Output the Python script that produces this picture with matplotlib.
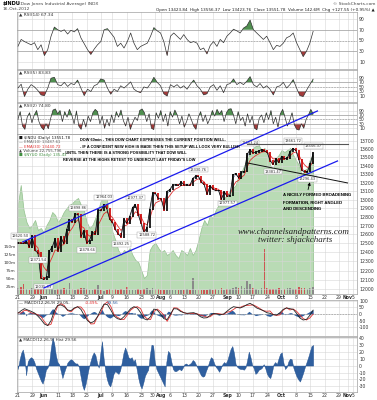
import numpy as np
import pandas as pd
import matplotlib
matplotlib.use('Agg')
import matplotlib.pyplot as plt
from matplotlib.ticker import NullLocator

W, H = 377, 400

# $INDU daily closes, 21-May-2012 .. 16-Oct-2012
closes = [12504.48, 12502.81, 12496.15, 12529.75, 12454.83, 12580.69, 12419.86, 12393.45,
          12118.57, 12101.46, 12127.95, 12414.79, 12460.96, 12554.20, 12411.23, 12573.80,
          12496.38, 12651.91, 12767.17, 12741.82, 12837.33, 12824.39, 12573.57, 12640.78,
          12502.66, 12534.67, 12627.01, 12602.26, 12880.09, 12871.39, 12943.36, 12896.67,
          12772.47, 12736.29, 12653.12, 12604.53, 12573.27, 12777.09, 12727.21, 12805.54,
          12908.70, 12943.33, 12822.57, 12721.46, 12617.32, 12676.05, 12887.93, 13075.66,
          13073.01, 13008.68, 13008.46, 12878.88, 13096.17, 13117.51, 13168.60, 13175.64,
          13165.19, 13207.95, 13169.43, 13172.14, 13164.78, 13250.11, 13275.20, 13271.64,
          13203.58, 13172.76, 13057.46, 13157.97, 13124.67, 13102.99, 13107.48, 13000.71,
          13090.84, 13035.94, 13047.48, 13292.00, 13306.64, 13254.29, 13323.36, 13333.35,
          13539.86, 13593.37, 13553.10, 13564.64, 13577.96, 13596.93, 13579.47, 13558.92,
          13457.55, 13413.51, 13485.97, 13437.13, 13515.11, 13482.36, 13494.61, 13575.36,
          13610.15, 13583.65, 13473.53, 13344.97, 13326.39, 13328.85, 13424.23, 13551.78]

# green overlay area (height above panel floor, panel units 0-160)
overlay = [89, 109, 84, 72, 66, 69, 74, 64, 66, 62, 69, 74, 82, 79, 72, 76, 82, 86, 89, 91,
           94, 96, 89, 84, 72, 66, 69, 76, 84, 94, 99, 96, 79, 62, 54, 44, 39, 44, 42, 46,
           39, 34, 32, 24, 16, 19, 44, 49, 51, 46, 42, 44, 39, 41, 44, 39, 36, 44, 42, 39,
           46, 39, 44, 54, 66, 74, 69, 79, 76, 84, 89, 94, 96, 99, 104, 106, 109, 119, 122, 129,
           134, 142, 146, 148, 149, 144, 146, 142, 129, 124, 136, 139, 144, 142, 144, 146, 139, 134, 129, 119,
           124, 126, 136, 139]

# volume (millions)
volume = [18, 22, 30, 15, 14, 20, 16, 18, 22, 25, 20, 16, 18, 14, 15, 17, 19, 16, 33, 15,
          14, 16, 18, 20, 15, 13, 14, 17, 28, 12, 8, 12, 15, 14, 16, 13, 15, 14, 22, 13,
          12, 14, 15, 13, 16, 18, 14, 19, 17, 15, 14, 12, 13, 11, 12, 13, 14, 12, 11, 15,
          13, 50, 14, 12, 13, 12, 14, 16, 13, 15, 12, 18, 14, 16, 15, 20, 22, 18, 25, 20,
          40, 30, 18, 16, 14, 20, 140, 18, 16, 17, 15, 19, 14, 16, 18, 20, 15, 17, 22, 18,
          20, 16, 19, 21]

rsi14 = [39, 52, 48, 45, 42, 46, 33, 42, 22, 33, 58, 75, 70, 67, 70, 62, 69, 66, 72, 55,
         44, 33, 24, 34, 42, 48, 70, 72, 64, 56, 39, 45, 36, 48, 64, 45, 33, 39, 42, 45,
         58, 74, 68, 64, 48, 22, 58, 64, 58, 52, 61, 52, 46, 48, 45, 33, 36, 25, 41, 48,
         39, 52, 46, 58, 64, 71, 68, 64, 73, 77, 88, 70, 64, 58, 52, 58, 46, 33, 41, 39,
         45, 55, 58, 64, 46, 33, 20, 30, 45, 67]

rsi5 = [45, 62, 8, 40, 60, 50, 35, 15, 12, 45, 88, 92, 60, 55, 70, 52, 65, 60, 80, 45,
        12, 40, 30, 55, 62, 85, 80, 45, 18, 40, 30, 55, 45, 58, 72, 40, 30, 25, 50, 45,
        65, 92, 70, 55, 20, 10, 60, 50, 60, 45, 55, 40, 62, 80, 55, 40, 15, 20, 50, 60,
        35, 55, 25, 60, 65, 85, 60, 70, 60, 75, 95, 60, 50, 65, 45, 55, 40, 15, 50, 55,
        70, 45, 60, 82, 45, 12, 8, 35, 60, 84]

rsi2 = [50, 85, 20, 5, 60, 80, 35, 70, 90, 40, 15, 3, 30, 8, 55, 92, 97, 75, 90, 40,
        85, 60, 95, 70, 30, 88, 20, 5, 50, 15, 65, 40, 80, 95, 85, 30, 65, 10, 50, 20,
        70, 35, 85, 60, 92, 45, 20, 60, 5, 35, 60, 45, 90, 97, 80, 40, 75, 10, 4, 80,
        55, 90, 40, 75, 20, 85, 60, 92, 70, 30, 65, 15, 40, 75, 50, 20, 5, 60, 85, 40,
        70, 30, 55, 90, 65, 95, 75, 90, 40, 80, 96, 98, 70, 30, 85, 45, 60, 20, 75, 35,
        65, 10, 3, 55, 70, 35, 80, 50, 90, 30, 60, 15, 75, 95, 60, 20, 45, 80, 25, 5,
        2, 30, 10, 50, 70, 95, 75]

macd_line = [5, 25, 40, 30, 20, 8, -15, -42, -75, -87, -50, 25, 65, 68, 55, 30, 25, 45, 55, 35,
             -10, -50, -67, -55, -20, 33, 75, 70, 30, -15, -35, -42, -20, 10, 40, 55, 45, 10, -35, -45,
             -20, 37, 30, 0, -35, -42, 0, 40, 38, 20, 10, 5, 8, 10, 0, -20, -30, -28, -10, 5,
             0, -5, 0, 20, 40, 55, 50, 45, 55, 70, 80, 65, 45, 35, 25, 10, 5, -5, -8, 10,
             35, 45, 40, 35, 5, -30, -45, -40, -10, 29]

macd_hist = [-5, 8, 18, 23, 12, -14, 6, 10, 12, 10, 5, -4, -10, -16, -22, -26, -18, -6, -3, 5,
             25, 40, 32, 15, 5, 2, -8, -18, -10, -3, 4, 7, 9, 8, 5, 3, 3, -2, -15, -28,
             -35, -27, -15, -3, 6, 14, 19, 15, 4, -3, 18, 35, 10, -8, -20, -27, -30, -22, -12, -8,
             -10, -12, -7, 5, 18, 26, 20, 12, 10, 12, 6, 9, -5, -18, -28, -33, -25, -15, -10, -6,
             15, 30, 29, 5, -5, -10, -15, -20, -25, -30, 5, 21, 18, 6, -5, -8, -8, -6, -5, -7,
             -3, 2, 3, 1, 2, 4, 8, 6, 1, -4, -9, -14, -16, -15, -8, -2, 6, 12, 10, 3,
             -2, -5, -9, -4, 2, 5, 3, 8, 16, 24, 28, 18, 2, -2, -4, -5, -5, -6, -3, 8,
             20, 12, 1, -4, -12, -10, -6, -5, -3, 2, -4, -12, -16, -18, -10, 2, 5, 2, 10, 17,
             19, 4, -5, -2, 6, 10, 9, -3, -10, -16, -20, -23, -17, -10, -2, 5, 12, 20, 28, 29.5]

tick_pos = [0, 5, 9, 14, 19, 24, 29, 33, 38, 43, 48, 50, 53, 58, 63, 68, 73, 77, 82, 87,
            92, 97, 102, 107, 112, 115, 117]
tick_lab = ['21', '29', 'Jun', '11', '18', '25', 'Jul', '9', '16', '23', '30', 'Aug', '6', '13',
            '20', '27', 'Sep', '10', '17', '24', 'Oct', '8', '15', '22', '29', 'Nov', '5']

# price labels: day index, text, above/below
label_idx = [1, 7, 9, 21, 24, 30, 36, 41, 45, 63, 73, 81, 89, 96, 101, 103]
label_txt = ['12620.50', '12371.54', '12035.09', '12898.86', '12478.66', '12964.03', '12492.25',
             '12977.37', '12588.72', '13330.76', '12977.57', '13653.24', '13381.47', '13661.72',
             '13296.43', '13556.37']
label_up = [1, 0, 0, 1, 0, 1, 0, 1, 0, 1, 0, 1, 0, 1, 0, 1]

# drawn trend lines (day index, price)
upper_chan = ([1.7, 104.5], [12516, 14073])
lower_chan = ([9.1, 111.5], [12011, 13457])
top_line = ([80.1, 115.3], [13661.72, 13661.72])
broad_line = ([80.1, 115.0], [13433, 13195])

note_font = ['Liberation Sans', 'DejaVu Sans']


def box(x0, y0, x1, y1):
    return [x0 / W, 1 - y1 / H, (x1 - x0) / W, (y1 - y0) / H]


def style(ax, yt, yl, xlabels=False):
    ax.set_xlim(-0.3, 118.3)
    ax.set_xticks(tick_pos)
    if xlabels:
        ax.set_xticklabels(tick_lab, fontsize=3.3, color='#333')
        for t in ax.get_xticklabels():
            if t.get_text() in ('Jun', 'Jul', 'Aug', 'Sep', 'Oct', 'Nov'):
                t.set_fontweight('bold')
            if t.get_text() == '30':
                t.set_ha('right')
    else:
        ax.set_xticklabels([])
    ax.yaxis.tick_right()
    ax.set_yticks(yt)
    ax.set_yticklabels(yl, fontsize=3.3, color='#333')
    ax.yaxis.set_minor_locator(NullLocator())
    ax.tick_params(length=0, pad=1.5)
    ax.grid(True, color='#d6d6d6', lw=0.4)
    ax.set_axisbelow(True)
    for s in ax.spines.values():
        s.set_color('#a0a0a0')
        s.set_linewidth(0.5)


fig = plt.figure(figsize=(W / 100, H / 100), dpi=100)
fig.patch.set_facecolor('white')


def ftext(x, y, s, **kw):
    fig.text(x / W, 1 - y / H, s, va='center', **kw)


# header
ftext(3, 4, '$INDU', fontsize=3.6, fontweight='bold')
ftext(19, 4, '(Dow Jones Industrial Average) INDX', fontsize=3.2, color='#444')
ftext(3, 8.5, '16-Oct-2012', fontsize=3.2, color='#444')
ftext(375, 4, '\u00a9 StockCharts.com', fontsize=3.2, color='#444', ha='right')
ftext(375, 9.5, 'Open 13423.84  High 13556.37  Low 13423.76  Close 13551.78  Volume 142.6M  Chg +127.55 (+0.95%) \u25b2',
      fontsize=3.0, color='#222', ha='right')


def rsi_panel(y0, y1, vals, ylim, name):
    ax = fig.add_axes(box(17, y0, 357, y1))
    xs = np.linspace(0, 103, len(vals))
    v = np.array(vals, dtype=float)
    ax.fill_between(xs, v, 70, where=v > 70, interpolate=True, color='#4f8f4f', lw=0)
    ax.fill_between(xs, v, 30, where=v < 30, interpolate=True, color='#a33a3a', lw=0)
    ax.axhline(70, color='#909090', lw=0.4)
    ax.axhline(30, color='#909090', lw=0.4)
    ax.axhline(50, color='#909090', lw=0.4, ls=(0, (3, 2)))
    ax.plot(xs, v, color='#303030', lw=0.5)
    ax.set_ylim(*ylim)
    style(ax, [10, 30, 50, 70, 90], ['10', '30', '50', '70', '90'])
    ax.text(0.005, 0.985, '\u25b2 ' + name, transform=ax.transAxes, fontsize=3.2, va='top',
            color='#333')
    return ax


rsi_panel(12, 69, rsi14, (-3, 103), 'RSI(14) 67.34')
rsi_panel(70, 102, rsi5, (-16, 124), 'RSI(5) 83.83')
rsi_panel(103, 134, rsi2, (-16, 124), 'RSI(2) 74.80')

# main price panel: overlay area, volume, price
mb = box(17, 134, 357, 294)
ax_ov = fig.add_axes(mb, zorder=1)
days = np.arange(len(closes))
ax_ov.fill_between(days, 0, overlay, color='#b9dbb5', lw=0.5, edgecolor='#93c08e')
ax_ov.set_xlim(-0.3, 118.3)
ax_ov.set_ylim(0, 160)
ax_ov.axis('off')

c = np.array(closes)
prev = np.r_[c[0], c[:-1]]
up = c >= prev

ax_vol = fig.add_axes(mb, zorder=2)
ax_vol.patch.set_alpha(0)
ax_vol.bar(days, volume, width=0.55, color=np.where(up, '#8a8a8a', '#cc5555'), lw=0)
ax_vol.set_xlim(-0.3, 118.3)
ax_vol.set_ylim(0, 500)
ax_vol.set_xticks([])
ax_vol.set_yticks([25, 50, 75, 100, 125, 150])
ax_vol.set_yticklabels(['25m', '50m', '75m', '100m', '125m', '150m'], fontsize=3.1, color='#333')
ax_vol.tick_params(length=0, pad=1)
for s in ax_vol.spines.values():
    s.set_visible(False)

ax = fig.add_axes(mb, zorder=3)
ax.patch.set_alpha(0)
ax.set_yscale('log')
ax.set_ylim(11946, 13786)
style(ax, [p for p in range(12000, 13800, 100)], [str(p) for p in range(12000, 13800, 100)],
      xlabels=True)
ax.tick_params(axis='x', pad=1)

ema10 = pd.Series(c).ewm(span=10 / 7, adjust=False).mean()
ema30 = pd.Series(c).ewm(span=30 / 7, adjust=False).mean()
ax.plot(days, ema30, color='#e03030', lw=0.6)
ax.plot(days, ema10, color='#8090a8', lw=0.5)
ax.vlines(days, np.minimum(prev, c) - 8, np.maximum(prev, c) + 8,
          colors=np.where(up, 'black', '#cc0000'), lw=1.2)
ax.plot(days, c, color='black', lw=0.5)

for i, t, u in zip(label_idx, label_txt, label_up):
    ax.annotate(t, (i, closes[i]), xytext=(0, 5 if u else -5), textcoords='offset points',
                ha='center', va='center', fontsize=2.6, color='#333',
                bbox=dict(boxstyle='square,pad=0.25', fc='white', ec='#9a9a9a', lw=0.3))

ax.plot(*upper_chan, color='#1a1aee', lw=0.9, clip_on=False, zorder=5)
ax.plot(*lower_chan, color='#1a1aee', lw=0.9, clip_on=False, zorder=5)
ax.plot(*top_line, color='#555555', lw=0.8, zorder=5)
ax.plot(*broad_line, color='#111111', lw=0.7, zorder=5)
ax.annotate('', xy=(102.1, 13235), xytext=(101.0, 13085),
            arrowprops=dict(arrowstyle='-|>', color='black', lw=0.6, mutation_scale=4))

# legend
leg = [('\u25a0 $INDU (Daily) 13551.78', '#111'), ('\u2014 EMA(10) 13487.61', '#666'),
       ('\u2014 EMA(30) 13440.72', '#e03030'), ('\u25b2 Volume 22,755,796', '#444'),
       ('\u25a0 $NYUD (Daily) 135.43', '#3f8f3f')]
for k, (s, col) in enumerate(leg):
    ftext(19, 138 + k * 4.3, s, fontsize=2.8, color=col)

note = ['DOW 60min - THIS DOW CHART EXPRESSES THE CURRENT POSITION WELL.',
        '- IF A CONFIDENT NEW HIGH IS MADE THEN THIS SETUP WILL LOOK VERY BULLISH',
        '- UNTIL THEN THERE IS A STRONG POSSIBILITY THAT DOW WILL',
        "REVERSE AT THE HIGHS RETEST TO UNDERCUT LAST FRIDAY'S LOW"]
for (x, y), s in zip([(80, 140), (80, 147), (63, 153.5), (63, 160)], note):
    ftext(x, y, s, fontsize=2.8, fontweight='bold', family=note_font)

for y, s in zip([195, 202, 209], ['A NICELY FORMED BROADENING', 'FORMATION, RIGHT ANGLED',
                                  'AND DESCENDING']):
    ftext(283, y, s, fontsize=3.1, fontweight='bold', family=note_font)

ftext(294, 232, 'www.channelsandpatterns.com', fontsize=6.5, style='italic',
      family=['Liberation Serif', 'DejaVu Serif'], ha='center', color='#222')
ftext(295, 240, 'twitter: shjackcharts', fontsize=6.5, style='italic',
      family=['Liberation Serif', 'DejaVu Serif'], ha='center', color='#222')

# MACD panel
hx = np.linspace(0, 103, len(macd_hist))
mx = np.linspace(0, 103, len(macd_line))
hist = np.array(macd_hist, dtype=float)
mline = np.array(macd_line, dtype=float)
signal = mline - np.interp(mx, hx, hist)

ax_m = fig.add_axes(box(17, 300, 357, 336))
ax_m.fill_between(hx, 0, hist, color='#2f5f9f', lw=0)
ax_m.axhline(0, color='#888', lw=0.4, ls=(0, (3, 2)))
ax_m.plot(mx, signal, color='#e03030', lw=0.6)
ax_m.plot(mx, mline, color='#222', lw=0.6)
ax_m.set_ylim(-165, 105)
style(ax_m, [-100, -50, 0, 50, 100], ['-100', '-50', '0', '50', '100'])
ax_m.text(0.005, 0.985, '\u2014 MACD(12,26,9) 29.05,', transform=ax_m.transAxes, fontsize=3.0,
          va='top', color='#222')
ax_m.text(0.2, 0.985, '-0.495,', transform=ax_m.transAxes, fontsize=3.0, va='top', color='#e03030')
ax_m.text(0.265, 0.985, '29.56', transform=ax_m.transAxes, fontsize=3.0, va='top', color='#2f5f9f')

# MACD histogram panel
ax_h = fig.add_axes(box(17, 337, 357, 392))
ax_h.fill_between(hx, 0, hist, color='#2f5f9f', lw=0.3, edgecolor='#1f4f8f')
ax_h.set_ylim(-38, 41)
style(ax_h, [-30, -20, -10, 0, 10, 20, 30, 40],
      ['-30', '-20', '-10', '0', '10', '20', '30', '40'], xlabels=True)
ax_h.tick_params(axis='x', pad=1)
ax_h.text(0.005, 0.99, '\u25b2 MACD(12,26,9) Hist 29.56', transform=ax_h.transAxes, fontsize=3.0,
          va='top', color='#333')

fig.savefig('out.png', dpi=100)
